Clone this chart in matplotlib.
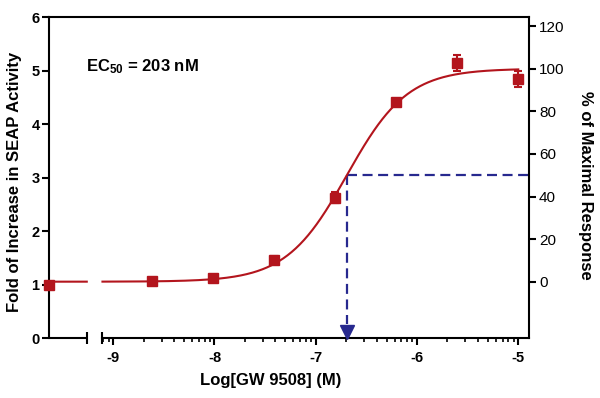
import numpy as np
import matplotlib
matplotlib.use("Agg")
import matplotlib.pyplot as plt
from matplotlib.ticker import FixedLocator

plt.rcParams['font.family'] = ['Liberation Sans', 'DejaVu Sans']
plt.rcParams['mathtext.fontset'] = 'custom'
plt.rcParams['mathtext.rm'] = 'Liberation Sans'
plt.rcParams['mathtext.bf'] = 'Liberation Sans:bold'

# ---- data ----
log_conc = [-8.612, -8.010, -7.408, -6.806, -6.204, -5.602, -5.0]
fold = [1.07, 1.13, 1.46, 2.63, 4.42, 5.15, 4.85]
fold_err = [0.03, 0.03, 0.08, 0.10, 0.04, 0.15, 0.15]
control_fold = 1.0
control_err = 0.03

ec50_nM = 203
fit_bottom = 1.058
fit_top = 5.04
fit_hill = 1.45
pct_zero_fold = 1.058     # fold value at 0 % of maximal response
pct_hundred_fold = 5.038  # fold value at 100 % of maximal response

x_ticks = [-9, -8, -7, -6, -5]
y_ticks = [0, 1, 2, 3, 4, 5, 6]
pct_ticks = [0, 20, 40, 60, 80, 100, 120]

# ---- layout ----
x_lo, x_hi = -9.631, -4.891
break_lo, main_lo = -9.261, -9.106
red = '#B3151D'
navy = '#27298F'

ec50_log = np.log10(ec50_nM * 1e-9)


def fit(x):
    x = np.asarray(x)
    return fit_bottom + (fit_top - fit_bottom) / (1 + 10 ** ((ec50_log - x) * fit_hill))


def to_pct(y):
    return (y - pct_zero_fold) / (pct_hundred_fold - pct_zero_fold) * 100


fig = plt.figure(figsize=(6, 3.98), dpi=100)
ax = fig.add_axes([49.3 / 600, 1 - 338.3 / 398, 480 / 600, 321 / 398])
ax.set_xlim(x_lo, x_hi)
ax.set_ylim(0, 6)

# fitted curve with axis break
xa = np.linspace(x_lo, break_lo, 30)
xb = np.linspace(main_lo, log_conc[-1], 500)
xc = np.concatenate([xa, [np.nan], xb])
ax.plot(xc, fit(xc), color=red, lw=1.5, zorder=2, clip_on=False)

# data
ax.errorbar(log_conc, fold, yerr=fold_err, fmt='s', color=red, ms=7,
            capsize=3, elinewidth=1.5, capthick=1.5, zorder=3)
ax.errorbar([x_lo], [control_fold], yerr=[control_err], fmt='s', color=red,
            ms=7, capsize=3, elinewidth=1.5, capthick=1.5, zorder=3,
            clip_on=False)

# EC50 guides
y50 = pct_zero_fold + 0.5 * (pct_hundred_fold - pct_zero_fold)
ax.plot([ec50_log, x_hi], [y50, y50], color=navy, lw=1.6, dashes=(4.5, 2.5),
        zorder=1)
ax.plot([ec50_log, ec50_log], [y50, 0.26], color=navy, lw=1.6,
        dashes=(4.5, 2.5), zorder=1)
ax.plot([ec50_log], [0.125], marker='v', color=navy, ms=9.5, zorder=4,
        clip_on=False)

# spines / axis break
for s in ax.spines.values():
    s.set_linewidth(1.5)
ax.spines['right'].set_visible(False)
ax.spines['bottom'].set_bounds(main_lo, x_hi)
xt = ax.get_xaxis_transform()
ax.plot([x_lo, break_lo], [0, 0], color='k', lw=1.5, transform=xt,
        clip_on=False, solid_capstyle='butt')
ax.plot([break_lo, main_lo], [0, 0], ls='none', marker='|', ms=9, mew=1.5,
        color='k', transform=xt, clip_on=False)

ax.xaxis.set_major_locator(FixedLocator(x_ticks))
minor = [d + np.log10(k) for d in range(-10, -5) for k in range(2, 10)]
minor = [m for m in minor if main_lo - 1e-6 <= m <= -5]
ax.xaxis.set_minor_locator(FixedLocator(minor))
ax.set_xticklabels([str(t) for t in x_ticks], fontweight='bold', fontsize=10.5)
ax.tick_params(axis='x', which='major', direction='out', length=5, width=1.5, pad=4)
ax.tick_params(axis='x', which='minor', direction='out', length=3, width=1.2)
ax.yaxis.set_major_locator(FixedLocator(y_ticks))
ax.set_yticklabels([str(t) for t in y_ticks], fontweight='bold', fontsize=10.5)
ax.tick_params(axis='y', direction='out', length=5, width=1.5, pad=2)

# right axis
ax2 = ax.twinx()
ax2.set_ylim(to_pct(0), to_pct(6))
ax2.yaxis.set_major_locator(FixedLocator(pct_ticks))
ax2.set_yticklabels([str(t) for t in pct_ticks], fontsize=11)
ax2.tick_params(axis='y', direction='out', length=5, width=1.5, pad=2)
for k in ['left', 'top', 'bottom']:
    ax2.spines[k].set_visible(False)
ax2.spines['right'].set_linewidth(1.5)

# text
ax.text(0.0765, 0.845, r"$\mathbf{EC_{50}}$" + f" = {ec50_nM} nM",
        transform=ax.transAxes, fontsize=12, fontweight='bold',
        ha='left', va='center')
fig.text(15 / 600, 1 - 181.5 / 398, "Fold of Increase in SEAP Activity",
         rotation=90, ha='center', va='center', fontsize=12, fontweight='bold')
fig.text(271 / 600, 1 - 381 / 398, "Log[GW 9508] (M)",
         ha='center', va='center', fontsize=12, fontweight='bold')
fig.text(586 / 600, 1 - 185 / 398, "% of Maximal Response",
         rotation=270, ha='center', va='center', fontsize=12, fontweight='bold')

fig.savefig('out.png', dpi=100)
